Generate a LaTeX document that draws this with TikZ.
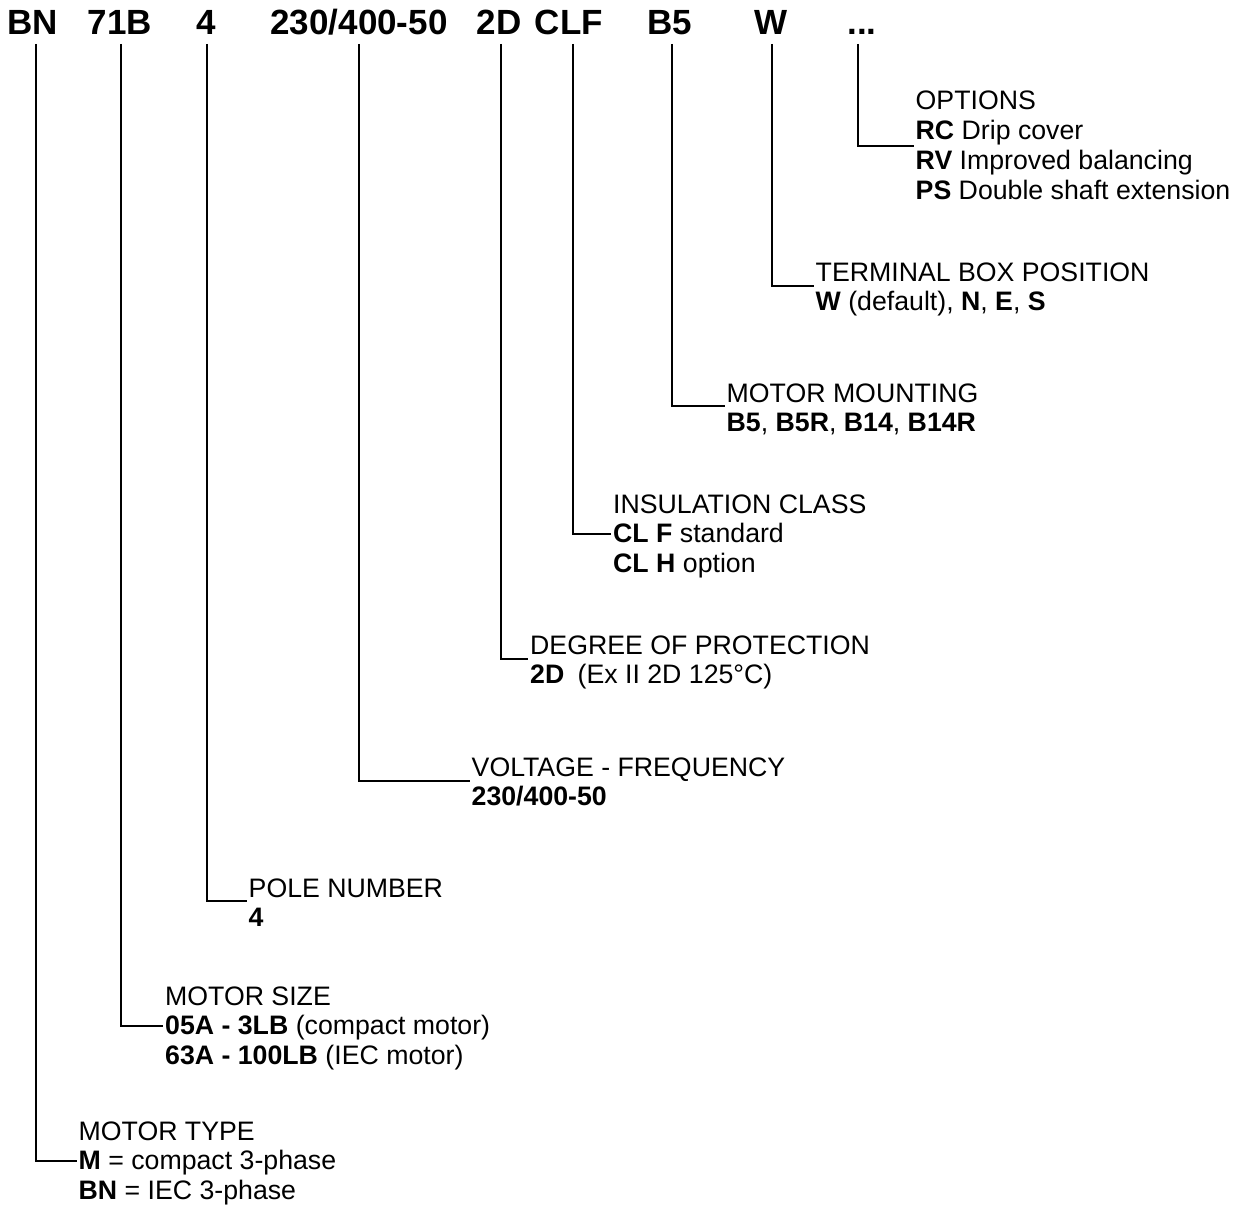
\documentclass[tikz,border=0pt]{standalone}
\usepackage{fontspec}
\setmainfont{Liberation Sans}
\begin{document}
\begin{tikzpicture}[x=1pt,y=-1pt,
  hdr/.style={font=\fontsize{35}{38}\selectfont\bfseries, inner sep=0pt, anchor=base},
  lbl/.style={font=\fontsize{26.7}{29.8}\selectfont, inner sep=0pt, anchor=base west, align=left},
  conn/.style={line width=1.8pt, black}]
\useasboundingbox (0,0) rectangle (1237,1207);

% header code
\node[hdr] (hBN)   at (32.5,35) {BN};
\node[hdr] (h71B)  at (120,35) {71B};
\node[hdr] (h4)    at (206,35) {4};
\node[hdr] (h230)  at (359,35) {230/400-50};
\node[hdr] (h2D)   at (499,35) {2D};
\node[hdr] (hCLF)  at (569,35) {CLF};
\node[hdr] (hB5)   at (670,35) {B5};
\node[hdr] (hW)    at (771,35) {W};
\node[hdr] (hdots) at (862,35) {...};

% labels
\node[lbl] (lOPT) at (915.5,110) {\vtop{\hbox{OPTIONS}\hbox{\textbf{RC} Drip cover}\hbox{\textbf{RV} Improved balancing}\hbox{\textbf{PS} Double shaft extension}}};
\node[lbl] (lTB) at (815.5,281) {\vtop{\hbox{TERMINAL BOX POSITION}\hbox{\textbf{W} (default), \textbf{N}, \textbf{E}, \textbf{S}}}};
\node[lbl] (lMM) at (726.5,402) {\vtop{\hbox{MOTOR MOUNTING}\hbox{\textbf{B5}, \textbf{B5R}, \textbf{B14}, \textbf{B14R}}}};
\node[lbl] (lIC) at (613,513) {\vtop{\hbox{INSULATION CLASS}\hbox{\textbf{CL F} standard}\hbox{\textbf{CL H} option}}};
\node[lbl] (lDP) at (530,654) {\vtop{\hbox{DEGREE OF PROTECTION}\hbox{\textbf{2D}\hspace{0.5em}(Ex II 2D 125°C)}}};
\node[lbl] (lVF) at (471.5,776) {\vtop{\hbox{VOLTAGE - FREQUENCY}\hbox{\textbf{230/400-50}}}};
\node[lbl] (lPN) at (248.5,897) {\vtop{\hbox{POLE NUMBER}\hbox{\textbf{4}}}};
\node[lbl] (lMS) at (165,1005) {\vtop{\hbox{MOTOR SIZE}\hbox{\textbf{05A - 3LB} (compact motor)}\hbox{\textbf{63A - 100LB} (IEC motor)}}};
\node[lbl] (lMT) at (78.5,1140) {\vtop{\hbox{MOTOR TYPE}\hbox{\textbf{M} = compact 3-phase}\hbox{\textbf{BN} = IEC 3-phase}}};

% connectors
\draw[conn] ([xshift=-4pt,yshift=-9pt]hdots.base) |- ([xshift=-2pt,yshift=-36pt]lOPT.base west);
\draw[conn] ([xshift=1pt,yshift=-9pt]hW.base) |- ([xshift=-2pt,yshift=-5pt]lTB.base west);
\draw[conn] ([xshift=2pt,yshift=-9pt]hB5.base) |- ([xshift=-2pt,yshift=-4pt]lMM.base west);
\draw[conn] ([xshift=4pt,yshift=-9pt]hCLF.base) |- ([xshift=-2pt,yshift=-21pt]lIC.base west);
\draw[conn] ([xshift=2pt,yshift=-9pt]h2D.base) |- ([xshift=-2pt,yshift=-5pt]lDP.base west);
\draw[conn] ([xshift=0pt,yshift=-9pt]h230.base) |- ([xshift=-2pt,yshift=-5pt]lVF.base west);
\draw[conn] ([xshift=1pt,yshift=-9pt]h4.base) |- ([xshift=-2pt,yshift=-4pt]lPN.base west);
\draw[conn] ([xshift=1pt,yshift=-9pt]h71B.base) |- ([xshift=-2pt,yshift=-21pt]lMS.base west);
\draw[conn] ([xshift=3.5pt,yshift=-9pt]hBN.base) |- ([xshift=-2pt,yshift=-21pt]lMT.base west);
\end{tikzpicture}
\end{document}
